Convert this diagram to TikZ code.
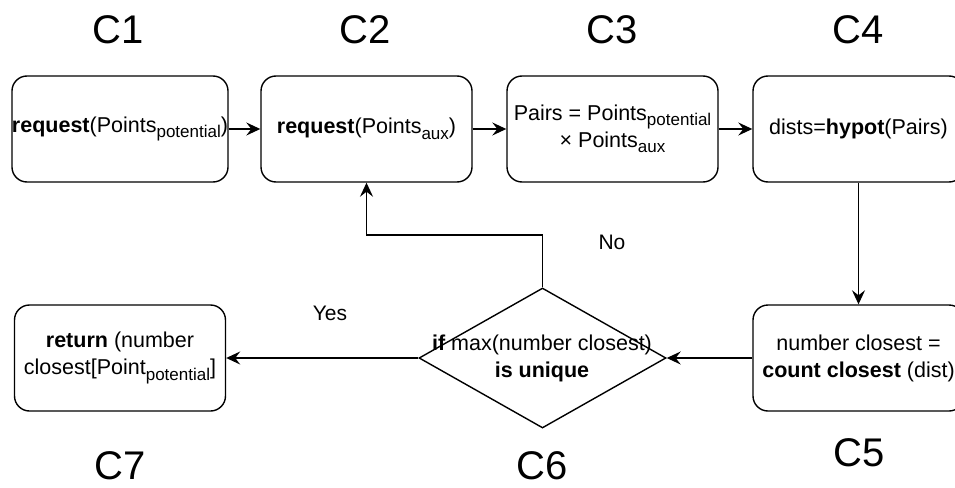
\documentclass[tikz,border=0pt]{standalone}
\usepackage{fontspec}
\setmainfont{Liberation Sans}
\usetikzlibrary{arrows.meta,shapes.geometric}
\newcommand\subtx[1]{\raisebox{-5.5pt}{\fontsize{17}{17}\selectfont #1}}
\begin{document}
\begin{tikzpicture}[x=1pt,y=-1pt,
  box/.style={draw, line width=1.4pt, rounded corners=15pt, minimum width=211pt, minimum height=106pt, inner sep=0pt, align=center, font=\fontsize{21.5}{27}\selectfont},
  lbl/.style={font=\fontsize{40}{40}\selectfont, inner sep=0pt},
  note/.style={font=\fontsize{21}{21}\selectfont, inner sep=0pt},
  conn/.style={line width=1.4pt, -{Stealth[length=14pt,width=13pt,inset=5pt]}}]
\useasboundingbox (0,0) rectangle (955,487);
\node[box] (c1) at (120,129) {\textbf{request}(Points\subtx{potential})};
\node[box] (c2) at (366.5,129) {\textbf{request}(Points\subtx{aux})};
\node[box] (c3) at (612.5,129) {Pairs = Points\subtx{potential}\\ × Points\subtx{aux}};
\node[box] (c4) at (858.5,129) {dists=\textbf{hypot}(Pairs)};
\node[box] (c5) at (858.5,358) {number closest =\\ \textbf{count closest} (dist)};
\node[box] (c7) at (120,358) {\textbf{return} (number\\ closest[Point\subtx{potential}]};
\node[diamond, draw, line width=1.4pt, minimum width=247pt, minimum height=140pt, inner sep=0pt] (c6) at (542.5,358) {};
\node[align=center, inner sep=0pt, font=\fontsize{21.5}{27}\selectfont] (c6t) at (542,358) {\textbf{if} max(number closest)\\ \textbf{is unique}};
\node[lbl] (l1) at (118.5,30) {C1};
\node[lbl] (l2) at (365.5,30) {C2};
\node[lbl] (l3) at (612,30) {C3};
\node[lbl] (l4) at (858,30) {C4};
\node[lbl] (l5) at (859,453) {C5};
\node[lbl] (l6) at (542,466) {C6};
\node[lbl] (l7) at (120,466) {C7};
\node[note] (no) at (612,242) {No};
\node[note] (yes) at (330,313) {Yes};
\coordinate (bend) at (542.5,235);
\draw[conn] (c1) -- (c2);
\draw[conn] (c2) -- (c3);
\draw[conn] (c3) -- (c4);
\draw[conn] (c4) -- (c5);
\draw[conn] (c5) -- (c6.east);
\draw[conn] (c6.west) -- (c7);
\draw[conn] (c6.north) -- (bend) -| (c2.south);
\end{tikzpicture}
\end{document}
